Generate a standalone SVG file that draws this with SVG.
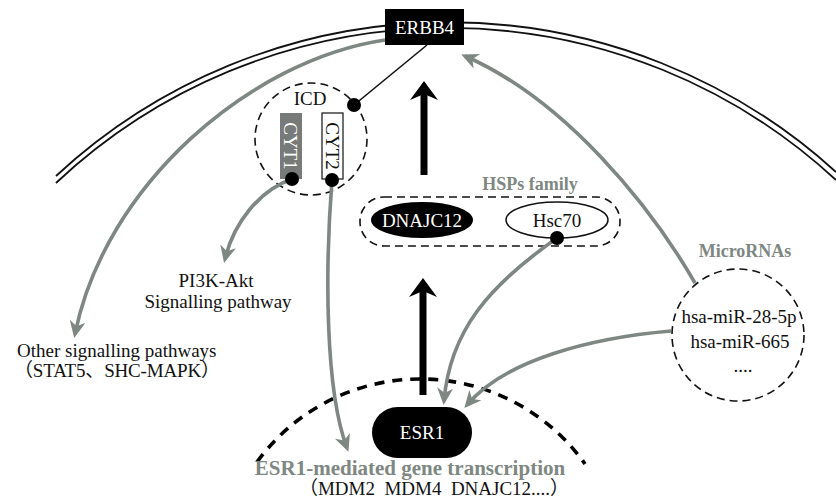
<svg xmlns="http://www.w3.org/2000/svg" width="836" height="498" viewBox="0 0 836 498">
<style>
text{font-family:"Liberation Serif","Times New Roman","Noto Sans CJK SC",serif;font-size:19px;fill:#111}
.c{text-anchor:middle}
.w{fill:#fff}
.gb{font-weight:bold;fill:#7e8782}
.mem{fill:none;stroke:#111;stroke-width:1.8}
.dash{fill:none;stroke:#111;stroke-width:1.6;stroke-dasharray:8 5}
.g{fill:none;stroke:#7e8782;stroke-width:3.6}
</style>
<defs>
<marker id="ah" viewBox="0 0 17 16" refX="13" refY="8" markerWidth="17" markerHeight="16" markerUnits="userSpaceOnUse" orient="auto"><path d="M0,0 L17,8 L0,16 L5,8 z" fill="#7e8782"/></marker>
<marker id="big" viewBox="0 0 19 28" refX="8" refY="14" markerWidth="19" markerHeight="28" markerUnits="userSpaceOnUse" orient="auto"><path d="M0,0 L19,14 L0,28 L6,14 z" fill="#000"/></marker>
<marker id="dot" viewBox="-7 -7 14 14" refX="0" refY="0" markerWidth="14" markerHeight="14" markerUnits="userSpaceOnUse"><circle r="7" fill="#000"/></marker>
</defs>
<rect width="836" height="498" fill="#fff"/>
<g id="membrane">
<path class="mem" d="M56,176 A577,577 0 0 1 836,172"/>
<path class="mem" d="M56,183 A572,572 0 0 1 836,180"/>
</g>
<g id="nucleus">
<path d="M257,462 A202,202 0 0 1 585,464" fill="none" stroke="#000" stroke-width="3.6" stroke-dasharray="10 8"/>
</g>
<g id="erbb4">
<rect x="385" y="9" width="79" height="36" fill="#000"/>
<text class="c w" x="424.5" y="34">ERBB4</text>
</g>
<g id="icd">
<circle class="dash" cx="311" cy="139" r="56"/>
<text class="c" x="310" y="105">ICD</text>
</g>
<g id="cyt1">
<rect x="280" y="113" width="22" height="66" fill="#777a78"/>
<text class="c w" x="291" y="146" dy="0.35em" transform="rotate(90 291 146)">CYT1</text>
</g>
<g id="cyt2">
<rect x="322" y="113" width="21" height="66" fill="#fff" stroke="#111" stroke-width="1.2"/>
<text class="c" x="332.5" y="146" dy="0.35em" transform="rotate(90 332.5 146)">CYT2</text>
</g>
<g id="hsps">
<text class="c gb" x="530" y="190" style="font-size:18px">HSPs family</text>
<rect class="dash" x="360" y="197" width="260" height="49" rx="24"/>
</g>
<g id="dnajc12">
<ellipse cx="422" cy="220" rx="51" ry="18" fill="#000"/>
<text class="c w" x="422" y="227">DNAJC12</text>
</g>
<g id="hsc70">
<ellipse cx="557" cy="220" rx="51" ry="18" fill="#fff" stroke="#111" stroke-width="1.5"/>
<text class="c" x="557" y="227">Hsc70</text>
</g>
<g id="esr1">
<rect x="372" y="407" width="100" height="51" rx="25.5" fill="#000"/>
<text class="c w" x="422" y="439">ESR1</text>
</g>
<g id="micrornas">
<text class="c gb" x="745" y="257" style="font-size:18px">MicroRNAs</text>
<circle class="dash" cx="738" cy="335" r="66"/>
<text class="c" x="739" y="323">hsa-miR-28-5p</text>
<text class="c" x="740" y="348">hsa-miR-665</text>
<text class="c" x="743" y="372">....</text>
</g>
<g id="pi3k-akt">
<text class="c" x="216" y="287">PI3K-Akt</text>
<text class="c" x="218" y="308">Signalling pathway</text>
</g>
<g id="other-pathways">
<text x="17" y="357">Other signalling pathways</text>
<text x="14" y="377" textLength="206" lengthAdjust="spacing">（STAT5、SHC-MAPK）</text>
</g>
<g id="esr1-transcription">
<text class="c gb" x="410" y="475" style="font-size:21px">ESR1-mediated gene transcription</text>
<text class="c" x="434" y="495">（MDM2&#160;&#160;MDM4&#160;&#160;DNAJC12....）</text>
</g>
<g id="connectors">
<path d="M424,175 L424,92" stroke="#000" stroke-width="7" fill="none" marker-end="url(#big)"/>
<path d="M423,395 L423,289" stroke="#000" stroke-width="7" fill="none" marker-end="url(#big)"/>
<path d="M427,45 L354,105" stroke="#111" stroke-width="1.6" fill="none" marker-end="url(#dot)"/>
<path class="g" d="M385,40 C250,60 105,185 75,334" marker-end="url(#ah)"/>
<path class="g" d="M292,179 C260,190 234,222 225,259" marker-start="url(#dot)" marker-end="url(#ah)"/>
<path class="g" d="M332,180 C325,270 325,390 347,448" marker-start="url(#dot)" marker-end="url(#ah)"/>
<path class="g" d="M557,238 C490,285 450,330 444,401" marker-start="url(#dot)" marker-end="url(#ah)"/>
<path class="g" d="M671,331 C590,338 505,360 467,405" marker-end="url(#ah)"/>
<path class="g" d="M695,283 C650,205 565,100 465,56" marker-end="url(#ah)"/>
</g>
</svg>
